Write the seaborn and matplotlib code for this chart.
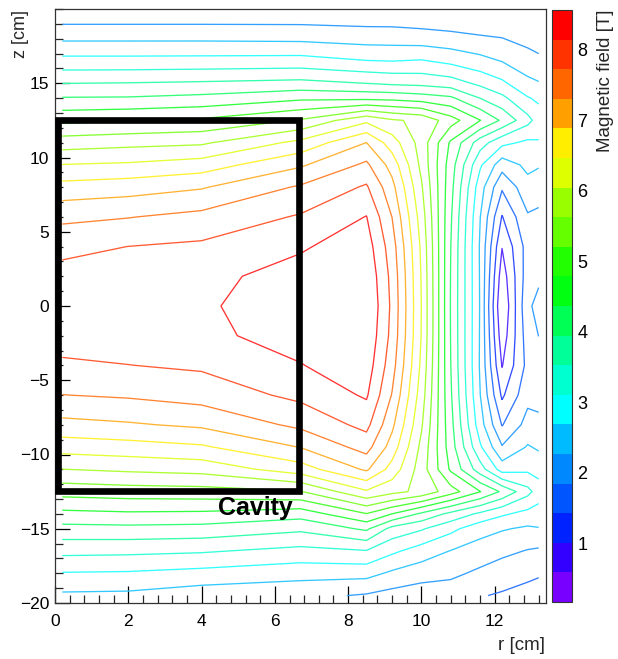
import numpy as np
import matplotlib
matplotlib.use("Agg")
import matplotlib.pyplot as plt
from matplotlib.colors import ListedColormap, BoundaryNorm, to_rgb
from matplotlib.cm import ScalarMappable
from matplotlib.patches import Rectangle
import seaborn as sns

# ---------------- data ----------------
# grid of field samples: r positions (cm) and z positions (cm)
r_nodes = [0.2, 2.0, 4.0, 6.7, 8.5, 9.2, 10.0, 10.8, 11.6, 12.2, 12.9, 13.2]
z_nodes = [-19.5, -18, -16.5, -15, -14, -12.5, -11, -9.5, -8, -6, -4, -2, 0,
           2, 4, 6, 8, 9.5, 11, 12.5, 14, 15, 16.5, 18, 19.5]

# magnetic field [T] along each r column, listed from z=-19.5 to z=19.5
field_r0_2 = [2.19, 2.66, 3.22, 3.81, 4.25, 4.95, 5.62, 6.23, 6.76, 7.30, 7.67, 7.88, 7.95,
              7.87, 7.61, 7.21, 6.62, 6.06, 5.42, 4.69, 3.97, 3.52, 2.82, 2.20, 1.65]
field_r2_0 = [2.17, 2.64, 3.20, 3.83, 4.30, 5.01, 5.70, 6.30, 6.84, 7.36, 7.72, 7.95, 8.03,
              7.94, 7.73, 7.29, 6.70, 6.11, 5.50, 4.76, 3.98, 3.54, 2.82, 2.20, 1.65]
field_r4_0 = [2.02, 2.55, 3.15, 3.80, 4.28, 5.04, 5.77, 6.41, 6.96, 7.48, 7.79, 8.06, 8.09,
              8.04, 7.80, 7.43, 6.85, 6.25, 5.56, 4.85, 4.06, 3.58, 2.83, 2.20, 1.65]
field_r6_7 = [1.95, 2.42, 2.98, 3.61, 4.12, 5.18, 6.27, 6.90, 7.40, 7.83, 8.13, 8.30, 8.38,
              8.30, 8.10, 7.77, 7.36, 6.83, 6.16, 5.25, 4.28, 3.65, 2.85, 2.18, 1.65]
field_r8_5 = [1.80, 2.41, 3.08, 4.02, 4.77, 5.99, 6.95, 7.47, 7.85, 8.20, 8.38, 8.50, 8.57,
              8.50, 8.36, 8.16, 7.78, 7.39, 6.89, 5.95, 4.26, 3.52, 2.70, 2.10, 1.63]
field_r9_2 = [1.69, 2.19, 2.77, 3.38, 4.36, 5.75, 6.30, 6.70, 6.98, 7.28, 7.48, 7.60, 7.64,
              7.60, 7.50, 7.30, 7.02, 6.72, 6.25, 5.68, 4.24, 3.45, 2.68, 2.09, 1.63]
field_r10_0 = [1.60, 2.03, 2.49, 3.15, 3.87, 5.52, 5.42, 5.52, 5.68, 5.84, 5.96, 6.03, 6.04,
               6.02, 5.97, 5.85, 5.68, 5.52, 5.45, 5.54, 4.15, 3.41, 2.72, 2.06, 1.58]
field_r10_8 = [1.60, 1.94, 2.25, 2.80, 3.41, 4.97, 4.30, 4.15, 4.08, 4.00, 3.95, 3.93, 3.92,
               3.93, 3.95, 4.00, 4.08, 4.15, 4.30, 4.97, 4.02, 3.31, 2.58, 2.00, 1.53]
field_r11_6 = [1.45, 1.76, 2.08, 2.42, 3.02, 4.38, 3.30, 2.75, 2.45, 2.28, 2.22, 2.23, 2.24,
               2.23, 2.22, 2.28, 2.45, 2.75, 3.30, 4.38, 3.52, 3.01, 2.40, 1.92, 1.45]
field_r12_2 = [1.38, 1.62, 1.95, 2.30, 2.75, 3.88, 2.50, 1.88, 1.40, 0.93, 0.56, 0.33, 0.16,
               0.35, 0.60, 0.98, 1.48, 2.02, 2.80, 3.88, 3.21, 2.77, 2.25, 1.86, 1.48]
field_r12_9 = [1.28, 1.52, 1.82, 2.20, 2.55, 3.24, 2.60, 2.30, 2.00, 1.72, 1.55, 1.65, 1.78,
               1.65, 1.60, 1.80, 2.12, 2.37, 2.60, 3.24, 2.72, 2.36, 2.05, 1.70, 1.48]
field_r13_2 = [1.20, 1.48, 1.78, 2.24, 2.50, 2.90, 2.52, 2.21, 1.95, 1.70, 1.60, 1.85, 1.95,
               1.78, 1.62, 1.75, 2.05, 2.30, 2.65, 2.92, 2.60, 2.29, 1.97, 1.59, 1.45]

field_columns = [field_r0_2, field_r2_0, field_r4_0, field_r6_7, field_r8_5, field_r9_2,
                 field_r10_0, field_r10_8, field_r11_6, field_r12_2, field_r12_9, field_r13_2]

# colour scale of the palette axis
field_min = 0.164
field_max = 8.567
n_bands = 20
band_colors = ["#7700ff", "#3300ff", "#0022ff", "#0055ff", "#0088ff",
               "#00bbff", "#00ffff", "#00ffd0", "#00ff99", "#00ff55",
               "#00ff11", "#22ff00", "#66ff00", "#99ff00", "#ddff00",
               "#ffee00", "#ffa000", "#ff6600", "#ff3300", "#ff0000"]
cbar_ticks = [1, 2, 3, 4, 5, 6, 7, 8]
x_ticks = [0, 2, 4, 6, 8, 10, 12]
y_ticks = [-20, -15, -10, -5, 0, 5, 10, 15]

# cavity outline (cm)
cavity_r = (0.08, 6.67)
cavity_z = (-12.45, 12.5)

# ---------------- style ----------------
sns.set_theme(style="white")
plt.rcParams["font.family"] = ["Liberation Sans", "DejaVu Sans"]

W, H = 618, 659
fig = plt.figure(figsize=(W / 100, H / 100), dpi=100)
fig.patch.set_facecolor("white")

ax = fig.add_axes([55 / W, 1 - 603 / H, (546 - 55) / W, (603 - 9) / H])
cax = fig.add_axes([552 / W, 1 - 602 / H, 20 / W, (602 - 10) / H])

levels = np.linspace(field_min, field_max, n_bands + 1)
cmap = ListedColormap(band_colors)
norm = BoundaryNorm(levels, cmap.N)

R = np.array(r_nodes)
Z = np.array(z_nodes)
B = np.array(field_columns).T  # shape (len(z), len(r))

# thin antialiased lines look a little paler than the palette
line_colors = [tuple(0.8 * c + 0.2 for c in to_rgb(band_colors[k]))
               for k in range(1, n_bands)]
ax.contour(R, Z, B, levels=levels[1:-1], colors=line_colors, linewidths=0.95,
           zorder=2)

ax.add_patch(Rectangle((cavity_r[0], cavity_z[0]), cavity_r[1] - cavity_r[0],
                       cavity_z[1] - cavity_z[0], fill=False, edgecolor="black",
                       linewidth=4.8, zorder=3, joinstyle="miter"))
ax.text(4.45, -14.1, "Cavity", fontsize=18, fontweight="bold", ha="left",
        va="baseline", color="black", zorder=4)

ax.set_xlim(0, 13.4)
ax.set_ylim(-20, 20)
ax.set_xticks(x_ticks)
ax.set_yticks(y_ticks)
ax.set_xticks(np.arange(0, 13.41, 0.4), minor=True)
ax.set_yticks(np.arange(-20, 20.1, 1), minor=True)
ax.tick_params(axis="x", which="major", direction="in", length=12, width=0.9,
               pad=8, labelsize=12.5, colors="black", bottom=True, top=False)
ax.tick_params(axis="x", which="minor", direction="in", length=6, width=0.9,
               bottom=True, top=False)
ax.tick_params(axis="y", which="major", direction="in", length=10.8, width=0.9,
               pad=4, labelsize=12.5, colors="black", left=True, right=False)
ax.tick_params(axis="y", which="minor", direction="in", length=5.4, width=0.9,
               left=True, right=False)
for sp in ax.spines.values():
    sp.set_visible(True)
    sp.set_color("#333333")
    sp.set_linewidth(0.9)
ax.set_facecolor("white")
ax.grid(False)

sm = ScalarMappable(norm=norm, cmap=cmap)
cb = fig.colorbar(sm, cax=cax, ticks=cbar_ticks, spacing="proportional")
cb.outline.set_edgecolor("#333333")
cb.outline.set_linewidth(0.8)
cax.tick_params(direction="in", length=10.8, width=1.0, colors="black",
                labelsize=13, pad=4)
cax.minorticks_off()

fig.text(20.5 / W, 1 - 10 / H, "z [cm]", rotation=90, ha="center", va="top",
         fontsize=13)
fig.text(545 / W, 1 - 650 / H, "r [cm]", ha="right", va="baseline", fontsize=13.5)
fig.text(606 / W, 1 - 9 / H, "Magnetic field [T]", rotation=90, ha="center",
         va="top", fontsize=13.5)

fig.savefig("out.png", dpi=100, facecolor="white")
